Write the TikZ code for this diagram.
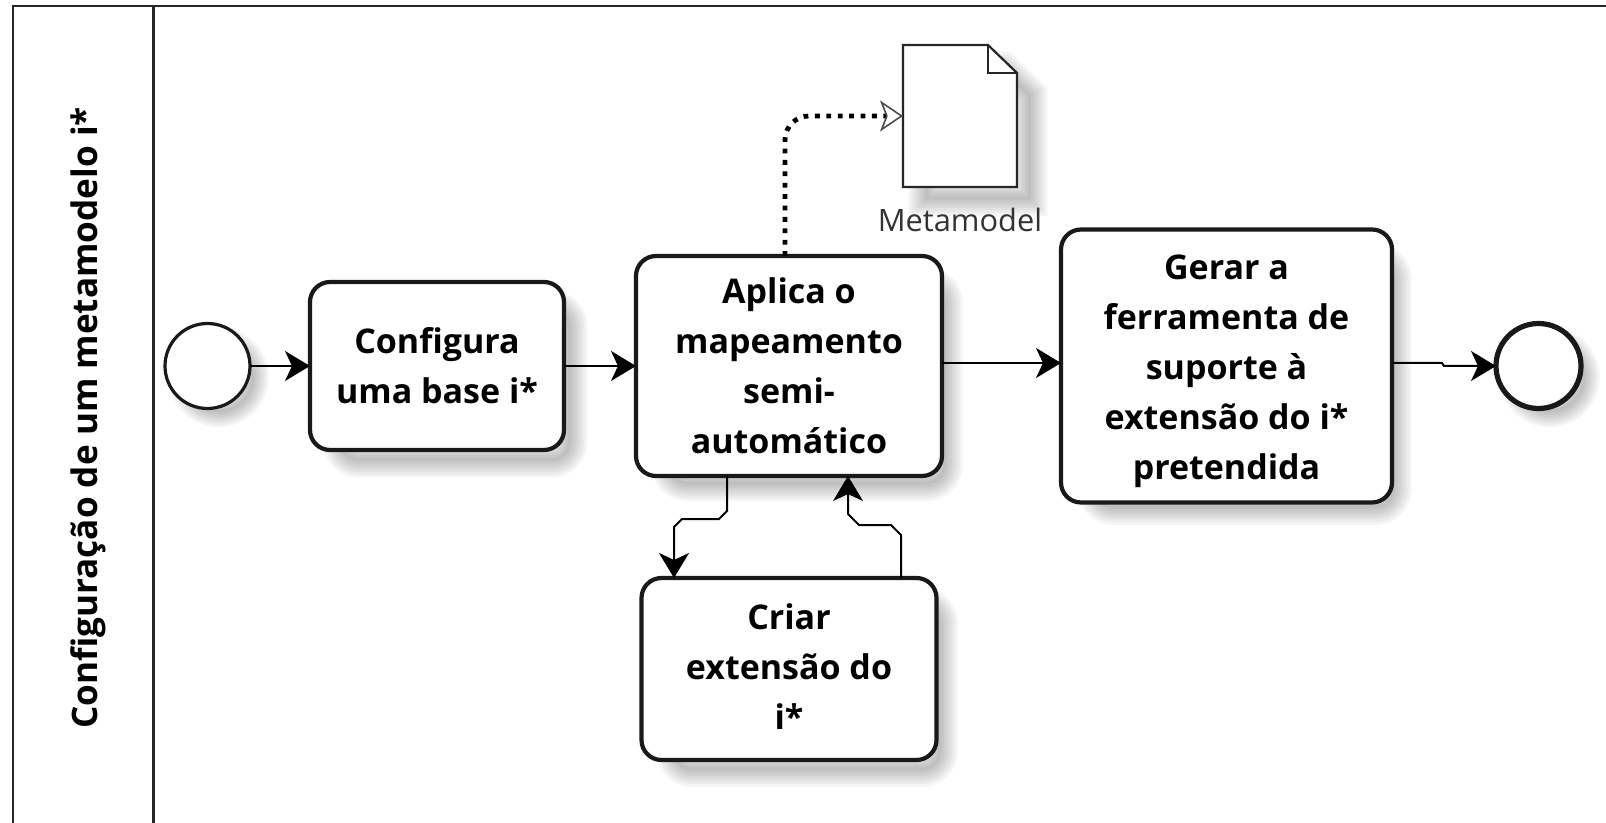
\documentclass[tikz,border=0pt]{standalone}
\usepackage{fontspec}
\setmainfont{Open Sans}
\usetikzlibrary{arrows.meta,positioning,shadows,calc}

\tikzset{
	softlayer/.style={general shadow={shadow xshift=\softoff,shadow yshift=-\softoff,shadow scale=\softscale,fill=none,draw=black,line width=#1,draw opacity=.038}},
	softshadow/.style={softlayer=20pt,softlayer=17pt,softlayer=14pt,softlayer=11pt,softlayer=8pt,softlayer=5pt,softlayer=2pt},
	boldtext/.style={font=\bfseries\fontsize{17}{25}\selectfont,align=center},
	taskbox/.style={draw=black!90,rectangle,rounded corners=10pt,line width=2.1pt,fill=white,inner sep=0pt,outer sep=0pt,softshadow},
	startev/.style={draw=black!90,circle,line width=1.6pt,fill=white,inner sep=0pt,outer sep=0pt,minimum size=42.5pt,softshadow},
	endev/.style={startev,line width=2.6pt},
	flow/.style={-{Stealth[length=12.5pt,width=15pt,inset=3.5pt]},line width=1pt,black},
	assoc/.style={-{Stealth[open,length=11.5pt,width=15.5pt,inset=3pt,line width=.8pt,black!70]},line width=2.4pt,dash pattern=on 2.4pt off 3.3pt,rounded corners=12pt},
}
\def\softoff{10pt}
\def\softscale{.9}

\begin{document}
\begin{tikzpicture}[x=0.5pt,y=-0.5pt,node distance=0mm]
	\useasboundingbox (0,0) rectangle (1606,823);

	% Pool
	\draw[line width=1.2pt,black!85] (13,823) -- (13,6) -- (1606,6);
	\draw[line width=1.2pt,black!85] (153.5,6) -- (153.5,823);
	\node[rotate=90,font=\bfseries\fontsize{17.55}{25}\selectfont] (lane) at (88,418) {Configuração de um metamodelo i*};

	% Eventi
	\def\softoff{7pt}
	\def\softscale{.8}
	\node[startev] (start) at (207.5,366) {};
	\def\softoff{10pt}
	\def\softscale{.9}

	% Task
	\node[taskbox,boldtext,right=30pt of start,minimum width=127pt,minimum height=84pt] (tsk1) {Configura\\uma base i*};
	\node[taskbox,boldtext,right=36pt of tsk1,minimum width=153pt,minimum height=110pt] (tsk2) {Aplica o\\mapeamento\\semi-\\automático};
	\node[taskbox,right=59.5pt of tsk2,minimum width=165.5pt,minimum height=136.5pt] (tsk3) {};
	\node[boldtext,yshift=-2.8pt] (tsk3text) at (tsk3) {Gerar a\\ferramenta de\\suporte à\\extensão do i*\\pretendida};
	\node[taskbox,below=51pt of tsk2,minimum width=147.5pt,minimum height=91pt] (tsk4) {};
	\node[boldtext,yshift=1.2pt] (tsk4text) at (tsk4) {Criar\\extensão do\\i*};

	\def\softoff{7pt}
	\def\softscale{.8}
	\node[endev,right=52pt of tsk3] (stop) {};
	\def\softoff{10pt}
	\def\softscale{.9}

	% Documento
	\node[minimum width=57pt,minimum height=71pt,inner sep=0pt,outer sep=0pt] (doc) at (960,116) {};
	\draw[line width=1.1pt,black!85,fill=white,softshadow] (doc.north west) -- ($(doc.north east)+(-29,0)$) -- ($(doc.north east)+(0,28)$) -- (doc.south east) -- (doc.south west) -- cycle;
	\draw[line width=1.1pt,black!85] ($(doc.north east)+(-29,0)$) -- ++(0,28) -- ++(29,0);
	\node[font=\fontsize{15.4}{16}\selectfont,text=black!80,below=7pt of doc] (doclab) {Metamodel};

	% Frecce
	\draw[flow] (start) -- (tsk1);
	\draw[flow] (tsk1) -- (tsk2);
	\coordinate (outa) at ($(tsk2.east)+(0,-3)$);
	\coordinate (outb) at (outa -| tsk3.west);
	\coordinate (outc) at ($(tsk3.east)+(0,-3)$);
	\draw[flow] (outa) -- (outb);
	\draw[flow] (outc) -- ++(50,0) -- ++(2,3) -- (stop.west);
	\coordinate (loopa) at ($(tsk2.south)+(-62,0)$);
	\coordinate (loopb) at ($(tsk4.north)+(-115,0)$);
	\coordinate (loopc) at ($(tsk4.north)+(112,0)$);
	\coordinate (loopd) at ($(tsk2.south)+(59,0)$);
	\draw[flow] (loopa) -- ++(0,35) -- ++(-8,8) -- ++(-37,0) -- ++(-8,8) -- (loopb);
	\draw[flow] (loopc) -- ++(0,-43) -- ++(-10,-10) -- ++(-32,0) -- ++(-11,-11) -- (loopd);
	\draw[assoc] ($(tsk2.north)+(-4,0)$) |- (doc.west);
\end{tikzpicture}
\end{document}
